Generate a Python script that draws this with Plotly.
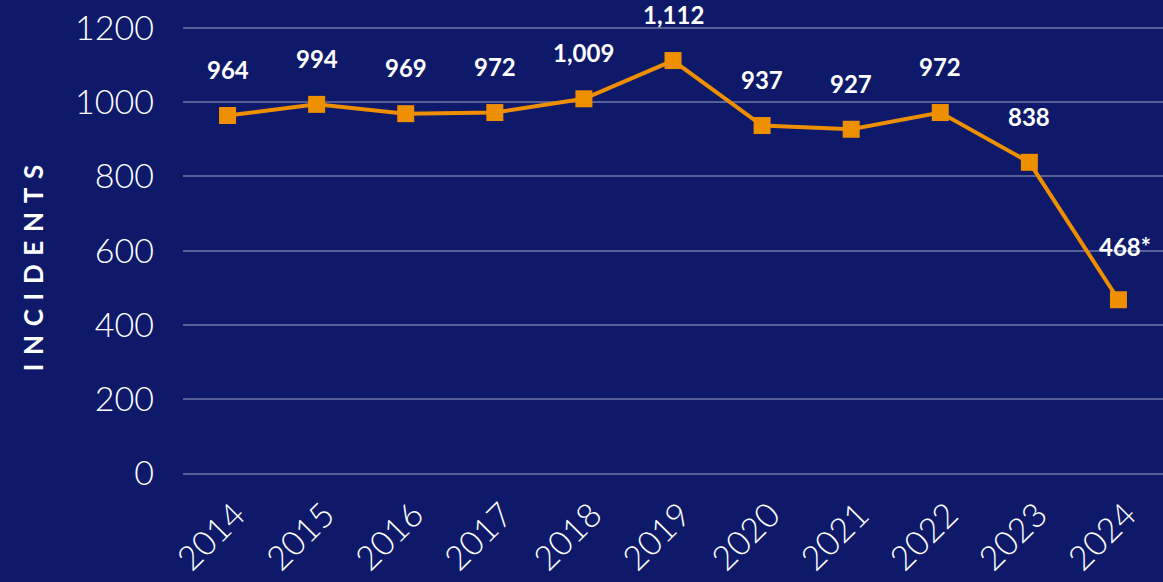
import plotly.graph_objects as go

years = ["2014", "2015", "2016", "2017", "2018", "2019", "2020", "2021", "2022", "2023", "2024"]
incidents = [964, 994, 969, 972, 1009, 1112, 937, 927, 972, 838, 468]
labels = ["964", "994", "969", "972", "1,009", "1,112", "937", "927", "972", "838", "468*"]
y_ticks = [0, 200, 400, 600, 800, 1000, 1200]

orange = "#ee8f00"
bg = "#0e1a69"

fig = go.Figure()
fig.add_trace(go.Scatter(
    x=years, y=incidents, mode="lines+markers",
    line=dict(color=orange, width=4),
    marker=dict(symbol="square", size=17, color=orange),
    hoverinfo="skip", showlegend=False,
))

for i, (v, lab) in enumerate(zip(incidents, labels)):
    last = i == len(years) - 1
    fig.add_annotation(x=i, y=v, xref="x", yref="y", text=f"<b>{lab}</b>", showarrow=False,
                       yshift=53 if last else 46, xshift=7 if last else 0,
                       font=dict(family="Lato", size=24, color="white"))

sp = "\u2004"
fig.add_annotation(xref="paper", yref="paper", x=-0.172, y=0.443,
                   text="<b>" + sp.join("INCIDENTS") + "</b>", textangle=-90, showarrow=False,
                   font=dict(family="Lato", size=26, color="white"))

fig.update_layout(
    width=1163, height=582,
    margin=dict(l=183, r=0, t=0, b=101),
    paper_bgcolor=bg, plot_bgcolor=bg,
    font=dict(family="Lato", color="white"),
    xaxis=dict(type="category", range=[-0.5, 10.5], showgrid=False, showline=False,
               tickangle=-45, tickfont=dict(size=34, color="white", family="Lato", weight=300),
               ticks="", ticklabelstandoff=6, ticklabelshift=8),
    yaxis=dict(range=[-20, 1275], tickvals=y_ticks, showgrid=True,
               gridcolor="rgba(255,255,255,0.3)", gridwidth=1.5, zeroline=False,
               showline=False, ticks="", ticklabelstandoff=28,
               tickfont=dict(size=34, color="white", family="Lato", weight=300)),
)

fig.write_html("out.html", config={"displayModeBar": False},
               post_script="document.body.style.margin='0';document.body.style.background='%s';" % bg)
